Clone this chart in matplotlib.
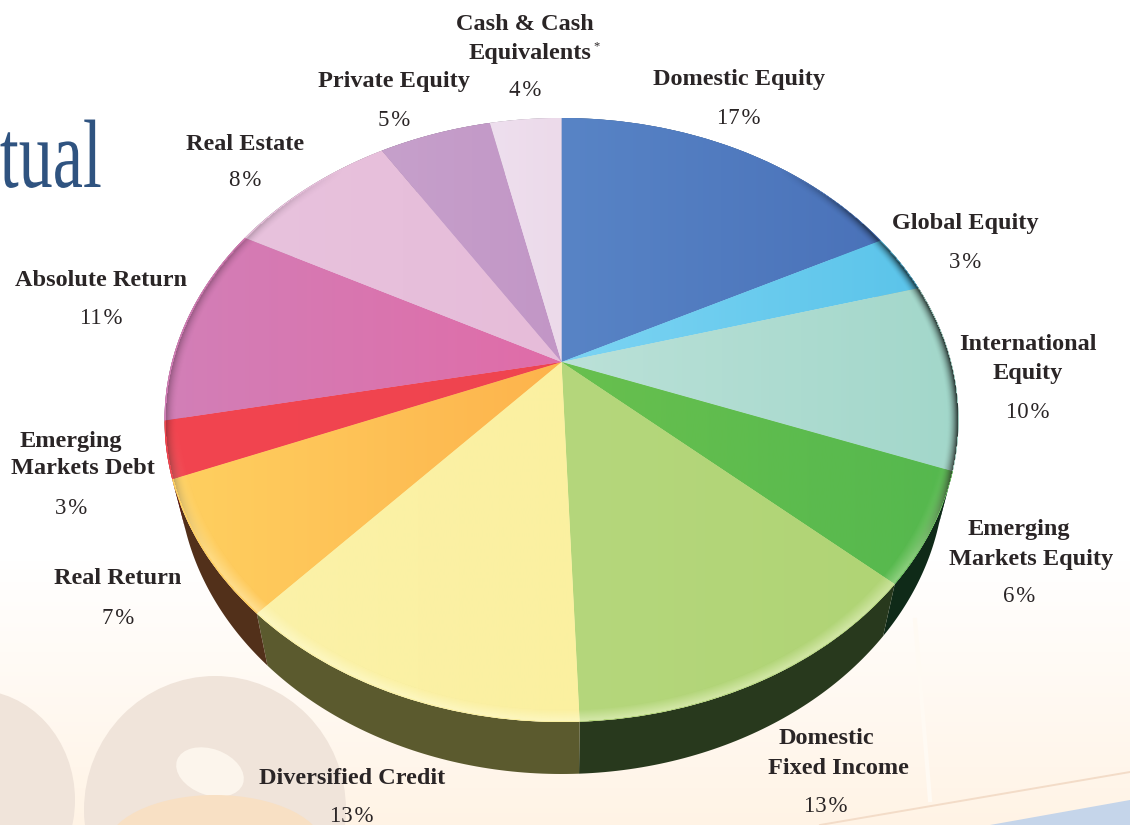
"""Asset allocation pie with a tilted 3D look, redrawn from a brochure page."""
import numpy as np
import matplotlib
matplotlib.use("Agg")
import matplotlib.pyplot as plt
from matplotlib.patches import Ellipse, Polygon
from matplotlib.patheffects import AbstractPathEffect
from matplotlib.transforms import Affine2D, Transform

INK, TITLE = "#2a2526", "#2f5380"
PX_W, PX_H = 1130, 825

categories = ["Domestic Equity", "Global Equity", "International Equity",
              "Emerging Markets Equity", "Domestic Fixed Income", "Diversified Credit",
              "Real Return", "Emerging Markets Debt", "Absolute Return",
              "Real Estate", "Private Equity", "Cash & Cash Equivalents"]
percent_labels = [17, 3, 10, 6, 13, 13, 7, 3, 11, 8, 5, 4]
# slice sizes as drawn, they differ a little from the printed rounded numbers
drawn_shares = [17.5, 3.2, 10.0, 5.9, 12.8, 12.3, 7.2, 3.0, 10.8, 8.3, 5.5, 3.5]

color_left = ["#5884c6", "#7cd4f3", "#bbe1d8", "#68c04e", "#b5d77c", "#fbf2a8",
              "#ffd060", "#f2454f", "#d27fb7", "#e8c2dd", "#c6a0cb", "#eedfee"]
color_right = ["#4a72b9", "#5bc4ea", "#a2d7ca", "#55b84e", "#b0d475", "#fbf0a0",
               "#fdb34c", "#ef4450", "#e06ca8", "#e6bcd9", "#c296c6", "#ecdaea"]
wall_colors = ["#1d3a5a", "#1d4a5a", "#1f4a3a", "#0f2a18", "#28391d", "#5b5a2e",
               "#52301a", "#5a1a18", "#5a2a45", "#5a4a55", "#4a3a50", "#5a5560"]

# line text, centre x, centre y (pixels)
label_lines = [
    ("Cash & Cash", 525, 24), ("Equivalents", 530, 53), ("4%", 525, 91),
    ("Private Equity", 394, 82), ("5%", 394, 120),
    ("Domestic Equity", 739, 80), ("17%", 739, 118),
    ("Real Estate", 245, 144), ("8%", 245, 181),
    ("Global Equity", 965, 224), ("3%", 965, 263),
    ("Absolute Return", 101, 280), ("11%", 101, 318),
    ("International", 1028, 345), ("Equity", 1028, 374), ("10%", 1028, 412),
    ("Emerging", 71, 442), ("Markets Debt", 83, 469), ("3%", 71, 508),
    ("Emerging", 1019, 530), ("Markets Equity", 1031, 559), ("6%", 1019, 597),
    ("Real Return", 118, 579), ("7%", 118, 618),
    ("Domestic", 826, 739), ("Fixed Income", 838, 768), ("13%", 826, 806),
    ("Diversified Credit", 352, 778), ("13%", 352, 816),
]

# top face: ellipse in pixels, apex of the slices sits above its centre
CX, CY, RX, RY, APEX_Y = 561.5, 420, 397, 302, 362
DEPTH, WALL_SHRINK = 52, 0.965
TILT = (CY - APEX_Y) / RY


class Tilt(Transform):
    """Perspective map from the unit pie circle to pixel coordinates."""
    input_dims = output_dims = 2
    is_separable = False

    def transform_non_affine(self, values):
        u, v = values[:, 0], values[:, 1]
        w = 1 + TILT * v
        x = CX + RX * np.sqrt(1 - TILT ** 2) * u / w
        y = CY - (RY * v + CY - APEX_Y) / w
        return np.column_stack([x, y])


class Squeeze(AbstractPathEffect):
    """Narrow the glyphs around a fixed x, the page heading is a condensed face."""

    def __init__(self, anchor_x, factor):
        super().__init__()
        self.anchor_x, self.factor = anchor_x, factor

    def draw_path(self, renderer, gc, tpath, affine, rgbFace=None):
        squeeze = Affine2D().translate(-self.anchor_x, 0).scale(self.factor, 1).translate(self.anchor_x, 0)
        renderer.draw_path(gc, tpath, affine + squeeze, rgbFace)


tilt = Tilt()

fig = plt.figure(figsize=(PX_W / 100, PX_H / 100), dpi=100, facecolor="white")
ax = fig.add_axes([0, 0, 1, 1])

wedges, _ = ax.pie(drawn_shares, startangle=90, counterclock=False,
                   colors=color_left, wedgeprops={"linewidth": 0})
ax.set_aspect("auto")
ax.set_xlim(0, PX_W)
ax.set_ylim(PX_H, 0)
ax.axis("off")

# ---------- page background ----------
yy = np.linspace(0, 1, 200)[:, None]
wash = np.clip((yy - 0.68) / 0.32, 0, 1)
bg = np.dstack([np.ones_like(wash), 1 - 0.045 * wash, 1 - 0.10 * wash])
ax.imshow(bg, extent=(0, PX_W, PX_H, 0), aspect="auto", zorder=0)
ax.add_patch(Ellipse((215, 810), 262, 268, color="#f0e4da", lw=0, zorder=1))
ax.add_patch(Ellipse((210, 772), 70, 46, angle=20, color="#fcf5ec", lw=0, zorder=1))
ax.add_patch(Ellipse((-25, 800), 200, 220, color="#f0e4da", lw=0, zorder=1))
ax.add_patch(Ellipse((215, 850), 220, 110, color="#f8e0c4", lw=0, zorder=1))
ax.add_patch(Polygon([(990, 825), (1130, 800), (1130, 825)], color="#c5d5ea", lw=0, zorder=1))
ax.plot([820, 1130], [825, 772], color="#f3dcc8", lw=1.4, zorder=1)
ax.plot([915, 930], [620, 800], color="#fffaf3", lw=3, zorder=1)

ax.text(102, 187, "tual", family="Liberation Serif", fontsize=70, color=TITLE,
        ha="right", va="baseline", zorder=2, path_effects=[Squeeze(102, 0.7)])

# ---------- side wall ----------
edges = np.cumsum([0] + drawn_shares) / sum(drawn_shares) * 2 * np.pi
for i, c in enumerate(wall_colors):
    phi = np.linspace(edges[i], edges[i + 1], 60)
    up = tilt.transform(np.column_stack([np.sin(phi), np.cos(phi)]))
    low = np.column_stack([CX + WALL_SHRINK * (up[:, 0] - CX), up[:, 1] + DEPTH])
    ax.add_patch(Polygon(np.vstack([up, low[::-1]]), color=c, lw=0, zorder=3))

# ---------- top face, each slice with a left to right gradient ----------
for w, c0, c1 in zip(wedges, color_left, color_right):
    w.set_transform(tilt + ax.transData)
    w.set_zorder(4)
    xs = tilt.transform_path(w.get_path()).vertices[:, 0]
    ramp = np.linspace(matplotlib.colors.to_rgb(c0), matplotlib.colors.to_rgb(c1), 128)[None, :, :]
    im = ax.imshow(ramp, extent=(xs.min(), xs.max(), PX_H, 0), aspect="auto",
                   interpolation="bilinear", zorder=5)
    im.set_clip_path(w)

# rim shading: dark on the right flank, fainter on the left, soft glow along the front
gx, gy = np.meshgrid(np.linspace(-1, 1, 800), np.linspace(-1, 1, 610))
rho = np.hypot(gx, gy)
flank = np.clip((np.abs(gx) - 0.55) / 0.3, 0, 1) * np.clip((0.45 - gy) / 0.3, 0, 1)
flank = flank * np.where(gx > 0, 0.8, 0.3)
dark = np.clip((rho - 0.97) / 0.03, 0, 1) ** 2 * flank
glow = 0.4 * np.clip((rho - 0.96) / 0.035, 0, 1) * np.clip(gy * 1.5, 0, 1)
alpha = np.where(rho <= 0.999, 1 - (1 - dark) * (1 - glow), 0)
tone = np.clip(glow / np.maximum(alpha, 1e-3), 0, 1)[..., None]
rim = np.dstack([tone * np.array([1, 1, 0.9]), alpha])
ax.imshow(rim, extent=(CX - RX, CX + RX, CY + RY, CY - RY), aspect="auto",
          interpolation="bilinear", zorder=6)
ax.set_xlim(0, PX_W)
ax.set_ylim(PX_H, 0)

# ---------- labels ----------
for txt, x, y in label_lines:
    is_pct = txt.endswith("%")
    if is_pct:
        txt = txt.replace("%", "\u200a%")
    ax.text(x, y, txt, family="Liberation Serif", color=INK, ha="center", va="center",
            fontsize=16.5 if is_pct else 17.5, weight="normal" if is_pct else "bold", zorder=8)
ax.text(597, 46, "*", family="Liberation Serif", color=INK, fontsize=9, ha="center",
        va="center", zorder=8)

fig.savefig("out.png", dpi=100)
